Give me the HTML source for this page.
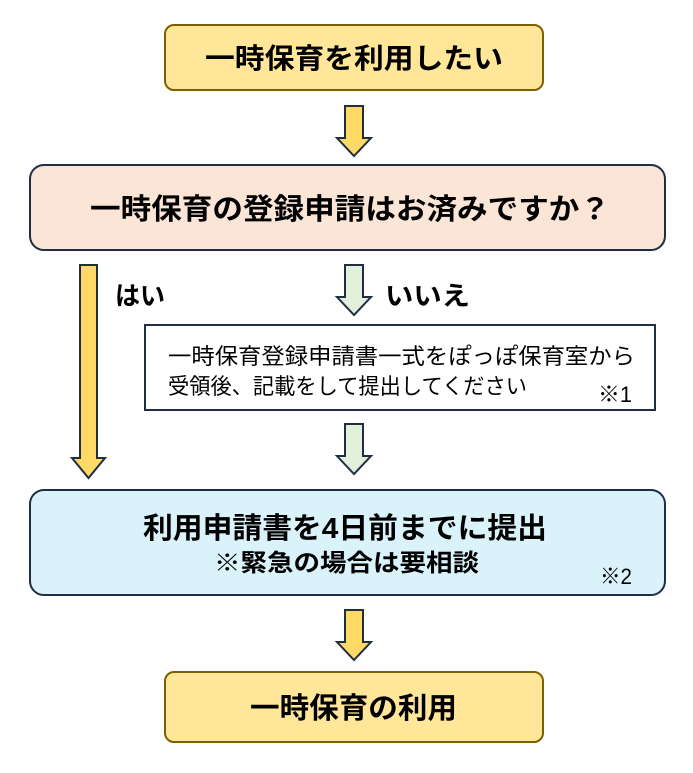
<!DOCTYPE html>
<html><head><meta charset="utf-8"><style>
html,body{margin:0;padding:0;background:#fff;}
svg{display:block;}
text{font-family:"Liberation Sans","Noto Sans CJK JP",sans-serif;fill:#000;}
.b{font-weight:bold;}
</style></head><body>
<svg width="693" height="773" viewBox="0 0 693 773" xmlns="http://www.w3.org/2000/svg">
<defs>
<g id="ar"><path d="M-9,0 H9 V32 H17 L0,50 L-17,32 H-9 Z"/></g>
</defs>
<rect x="165" y="25" width="378" height="65" rx="9" fill="#FFE699" stroke="#7F6000" stroke-width="2"/>
<text x="205" y="68" font-size="28" class="b" textLength="298" lengthAdjust="spacingAndGlyphs">一時保育を利用したい</text>
<use href="#ar" x="354" y="106" fill="#FFD966" stroke="#1F2D45" stroke-width="2"/>
<rect x="30" y="165" width="635" height="85" rx="14" fill="#FBE5D6" stroke="#1F2D45" stroke-width="2"/>
<text x="90" y="219" font-size="29" class="b" textLength="520" lengthAdjust="spacingAndGlyphs">一時保育の登録申請はお済みですか？</text>
<path d="M80,265 H97 V458 H105 L88.5,478 L72,458 H80 Z" fill="#FFD966" stroke="#1F2D45" stroke-width="2"/>
<text x="115" y="305" font-size="26" class="b" textLength="50" lengthAdjust="spacingAndGlyphs">はい</text>
<use href="#ar" x="354" y="265" fill="#E2EFDA" stroke="#1F2D45" stroke-width="2"/>
<text x="385" y="305" font-size="26" class="b" textLength="85" lengthAdjust="spacingAndGlyphs">いいえ</text>
<rect x="145" y="325" width="510" height="85" fill="#fff" stroke="#1F2D45" stroke-width="2"/>
<text x="168" y="364" font-size="22" textLength="467" lengthAdjust="spacingAndGlyphs">一時保育登録申請書一式をぽっぽ保育室から</text>
<text x="168" y="394" font-size="22" textLength="359" lengthAdjust="spacingAndGlyphs">受領後、記載をして提出してください</text>
<text x="598" y="402" font-size="22" textLength="34" lengthAdjust="spacingAndGlyphs">※1</text>
<use href="#ar" x="354" y="424" fill="#E2EFDA" stroke="#1F2D45" stroke-width="2"/>
<rect x="30" y="490" width="635" height="105" rx="14" fill="#DAF2FA" stroke="#1F2D45" stroke-width="2"/>
<text x="143" y="538" font-size="29" class="b" textLength="404" lengthAdjust="spacingAndGlyphs">利用申請書を4日前までに提出</text>
<text x="214" y="571" font-size="24" class="b" textLength="265" lengthAdjust="spacingAndGlyphs">※緊急の場合は要相談</text>
<text x="600" y="584" font-size="22" textLength="32" lengthAdjust="spacingAndGlyphs">※2</text>
<use href="#ar" x="354" y="610" fill="#FFD966" stroke="#1F2D45" stroke-width="2"/>
<rect x="165" y="672" width="378" height="70" rx="9" fill="#FFE699" stroke="#7F6000" stroke-width="2"/>
<text x="250" y="718" font-size="29" class="b" textLength="207" lengthAdjust="spacingAndGlyphs">一時保育の利用</text>
</svg>
</body></html>
